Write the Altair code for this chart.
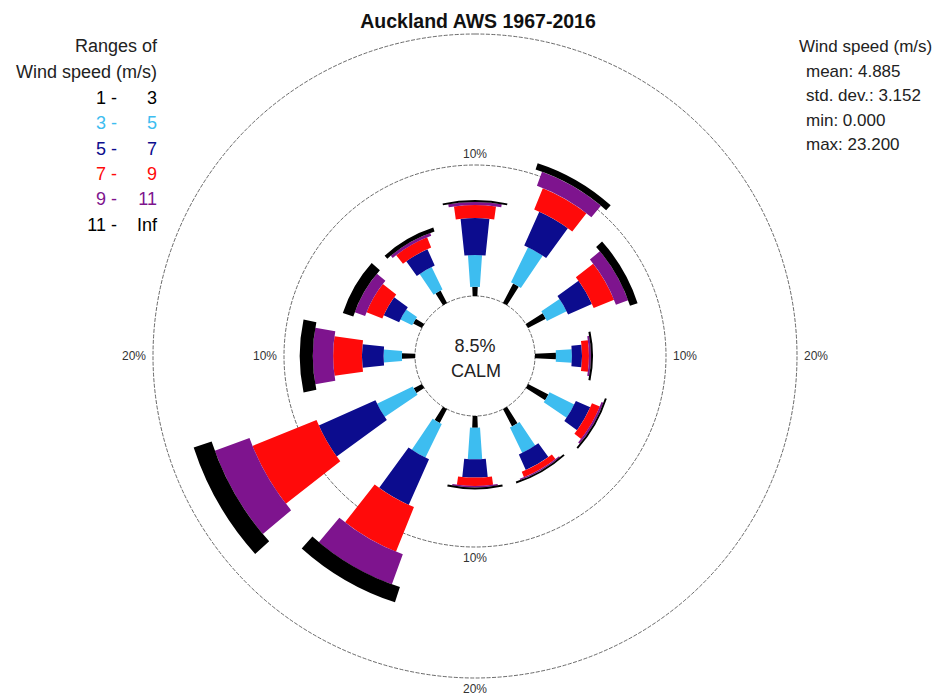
import math
import altair as alt
import numpy as np
import pandas as pd

# ---------------- data ----------------
directions = [0, 30, 60, 90, 120, 150, 180, 210, 240, 270, 300, 330]
speed_bins = ["1 - 3", "3 - 5", "5 - 7", "7 - 9", "9 - 11", "11 - Inf"]
bin_left = ["1 -", "3 -", "5 -", "7 -", "9 -", "11 -"]
bin_right = ["3", "5", "7", "9", "11", "Inf"]
bin_colors = ["#000000", "#3DBDF0", "#0C0C8E", "#FF0A0A", "#7E148E", "#000000"]

# frequency (%) of each speed range per direction
f_1_3 = [0.70, 1.68, 1.53, 1.60, 1.75, 1.50, 0.90, 1.20, 0.71, 1.00, 0.76, 1.07]
f_3_5 = [2.43, 2.98, 1.67, 1.22, 2.10, 2.15, 2.40, 2.85, 3.03, 1.40, 1.00, 1.91]
f_5_7 = [2.82, 2.82, 1.99, 0.77, 1.20, 1.30, 1.40, 3.81, 4.73, 1.65, 1.29, 1.37]
f_7_9 = [1.00, 1.76, 1.68, 0.53, 0.65, 0.45, 0.65, 3.67, 5.27, 2.20, 1.30, 0.84]
f_9_11 = [0.23, 1.14, 0.99, 0.15, 0.15, 0.10, 0.10, 2.44, 2.82, 1.55, 0.84, 0.23]
f_11_inf = [0.15, 0.52, 0.61, 0.16, 0.15, 0.15, 0.15, 1.22, 1.44, 1.00, 0.84, 0.31]

calm_pct = 8.5
rings = [10, 20]
ring_labels = ["10%", "20%"]

title_text = "Auckland AWS 1967-2016"
stats_lines = ["Wind speed (m/s)", "mean:  4.885", "std. dev.:  3.152", "min:  0.000", "max: 23.200"]

# ---------------- styling ----------------
bin_width_deg = [4.5, 8, 12, 16, 20, 24]
W, H = 929, 690
CX, CY = 467, 348
font = "Liberation Sans"

freqs = np.array([f_1_3, f_3_5, f_5_7, f_7_9, f_9_11, f_11_inf])  # bins x dirs
cum = np.cumsum(freqs, axis=0)

rows = []
for j, d in enumerate(directions):
    for k, name in enumerate(speed_bins):
        r0 = 0.0 if k == 0 else float(cum[k - 1, j])
        r1 = float(cum[k, j])
        hw = bin_width_deg[k] / 2
        rows.append({"dir": d, "bin": name, "t0": d - hw, "t1": d + hw, "r0": r0, "r1": r1})
seg = pd.DataFrame(rows)

tscale = alt.Scale(domain=[0, 360], range=[0, 2 * math.pi])
rscale = alt.Scale(type="linear", domain=[-60 / 13.1, 20], range=[0, 322], zero=False)

cx = alt.value(CX)
cy = alt.value(CY)

bars = alt.Chart(seg).mark_arc(stroke=None).encode(
    theta=alt.Theta("t0:Q", scale=tscale),
    theta2="t1:Q",
    radius=alt.Radius("r0:Q", scale=rscale),
    radius2="r1:Q",
    color=alt.Color("bin:N", scale=alt.Scale(domain=speed_bins, range=bin_colors), legend=None),
    x=cx, y=cy,
)

ring_df = pd.DataFrame({"r": [0] + rings, "t0": 0, "t1": 360})
ring_layer = alt.Chart(ring_df).mark_arc(
    filled=False, fill=None, stroke="#444444", strokeWidth=0.8, strokeDash=[4, 1.5]
).encode(
    theta=alt.Theta("t0:Q", scale=tscale),
    theta2="t1:Q",
    radius=alt.Radius("r:Q", scale=rscale),
    radius2=alt.value(0),
    x=cx, y=cy,
)

lab_rows = []
for rv, lab in zip(rings, ring_labels):
    for ang in [0, 90, 180, 270]:
        if rv == 20 and ang == 0:
            continue
        lab_rows.append({"r": rv, "t": ang, "label": lab, "vert": ang in (0, 180)})
lab_df = pd.DataFrame(lab_rows)

lab_v = alt.Chart(lab_df).transform_filter("datum.vert").mark_text(
    font=font, fontSize=12, color="#333333", radiusOffset=11
).encode(
    theta=alt.Theta("t:Q", scale=tscale),
    radius=alt.Radius("r:Q", scale=rscale),
    text="label:N", x=cx, y=cy,
)
lab_h = alt.Chart(lab_df).transform_filter("!datum.vert").mark_text(
    font=font, fontSize=12, color="#333333", radiusOffset=19
).encode(
    theta=alt.Theta("t:Q", scale=tscale),
    radius=alt.Radius("r:Q", scale=rscale),
    text="label:N", x=cx, y=cy,
)


def txt(s, x, y, size=18, color="#222222", align="center", weight="normal"):
    return alt.Chart(pd.DataFrame({"s": [s]})).mark_text(
        font=font, fontSize=size, color=color, align=align, baseline="middle", fontWeight=weight
    ).encode(text="s:N", x=alt.value(x), y=alt.value(y))


texts = [
    txt(title_text, 470, 14, size=19.5, weight="bold", color="#111111"),
    txt("8.5%", 467, 339),
    txt("CALM", 468, 364),
    txt("Ranges of", 149, 39, align="right"),
    txt("Wind speed (m/s)", 149, 65, align="right"),
]
for i in range(6):
    yy = 91 + i * 25.3
    texts.append(txt(bin_left[i], 109, yy, color=bin_colors[i], align="right"))
    texts.append(txt(bin_right[i], 149, yy, color=bin_colors[i], align="right"))

sx = [791, 798, 798, 798, 798]
for i, s in enumerate(stats_lines):
    texts.append(txt(s, sx[i], 39 + i * 24.5, align="left", size=17))

chart = alt.layer(ring_layer, bars, lab_v, lab_h, *texts).properties(
    width=W, height=H, padding=0, autosize="none"
).configure_view(stroke=None)

chart.save("out.html", embed_options={"renderer": "svg", "actions": False})
